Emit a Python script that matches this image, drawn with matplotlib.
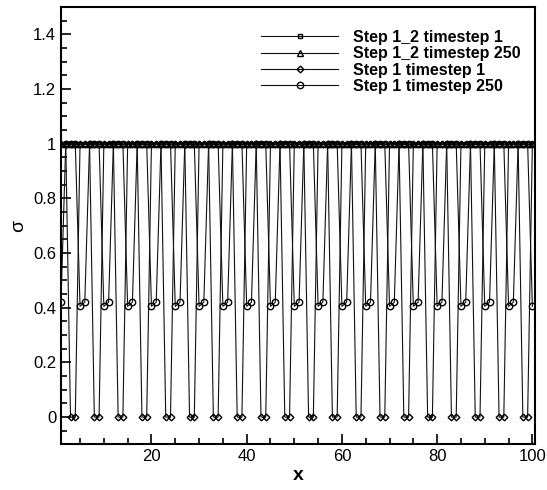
import numpy as np
import matplotlib.pyplot as plt
from matplotlib.ticker import MultipleLocator

plt.rcParams['font.family'] = ['Liberation Sans', 'DejaVu Sans']

x = np.arange(1, 101)

step12_ts1 = [1.0] * 100
step12_ts250 = [1.0] * 100

step1_ts1 = [
    1, 1, 0, 0, 1, 1, 1, 0, 0, 1, 1, 1, 0, 0, 1, 1, 1, 0, 0, 1,
    1, 1, 0, 0, 1, 1, 1, 0, 0, 1, 1, 1, 0, 0, 1, 1, 1, 0, 0, 1,
    1, 1, 0, 0, 1, 1, 1, 0, 0, 1, 1, 1, 0, 0, 1, 1, 1, 0, 0, 1,
    1, 1, 0, 0, 1, 1, 1, 0, 0, 1, 1, 1, 0, 0, 1, 1, 1, 0, 0, 1,
    1, 1, 0, 0, 1, 1, 1, 0, 0, 1, 1, 1, 0, 0, 1, 1, 1, 0, 0, 1,
]

step1_ts250 = [
    0.42, 1, 1, 1, 0.405, 0.42, 1, 1, 1, 0.405, 0.42, 1, 1, 1, 0.405, 0.42, 1, 1, 1, 0.405,
    0.42, 1, 1, 1, 0.405, 0.42, 1, 1, 1, 0.405, 0.42, 1, 1, 1, 0.405, 0.42, 1, 1, 1, 0.405,
    0.42, 1, 1, 1, 0.405, 0.42, 1, 1, 1, 0.405, 0.42, 1, 1, 1, 0.405, 0.42, 1, 1, 1, 0.405,
    0.42, 1, 1, 1, 0.405, 0.42, 1, 1, 1, 0.405, 0.42, 1, 1, 1, 0.405, 0.42, 1, 1, 1, 0.405,
    0.42, 1, 1, 1, 0.405, 0.42, 1, 1, 1, 0.405, 0.42, 1, 1, 1, 0.405, 0.42, 1, 1, 1, 0.405,
]

labels = ["Step 1_2 timestep 1", "Step 1_2 timestep 250",
          "Step 1 timestep 1", "Step 1 timestep 250"]
markers = ["s", "^", "D", "o"]
sizes = [3.5, 4.0, 3.4, 4.6]

fig = plt.figure(figsize=(5.47, 4.90), dpi=100)
ax = fig.add_axes([0.1115, 0.093, 0.867, 0.893])

for y, lab, m, ms in zip([step12_ts1, step12_ts250, step1_ts1, step1_ts250], labels, markers, sizes):
    ax.plot(x, y, color='#111111', lw=0.8, marker=m, markersize=ms,
            markerfacecolor='none', markeredgecolor='black', markeredgewidth=1.0,
            label=lab)

ax.set_xlim(1, 100.6)
ax.set_ylim(-0.1, 1.5)
ax.xaxis.set_major_locator(MultipleLocator(20))
ax.xaxis.set_minor_locator(MultipleLocator(5))
ax.yaxis.set_major_locator(MultipleLocator(0.2))
ax.yaxis.set_minor_locator(MultipleLocator(0.05))
ax.set_yticks([0, 0.2, 0.4, 0.6, 0.8, 1.0, 1.2, 1.4])
ax.set_yticklabels(["0", "0.2", "0.4", "0.6", "0.8", "1", "1.2", "1.4"])
ax.tick_params(which='both', direction='in', labelsize=12, width=1.2)
ax.tick_params(which='major', length=7)
ax.tick_params(which='minor', length=4)
for s in ax.spines.values():
    s.set_linewidth(1.5)

ax.set_xlabel("x", fontsize=14, fontweight='bold', labelpad=2)
ax.set_ylabel("σ", fontsize=14, labelpad=4)

ax.legend(loc='upper right', bbox_to_anchor=(1.0, 0.98), frameon=False,
          prop={'weight': 'bold', 'size': 11.5}, handlelength=4.8,
          labelspacing=0.08, handletextpad=0.95)

fig.savefig("out.png", dpi=100)
